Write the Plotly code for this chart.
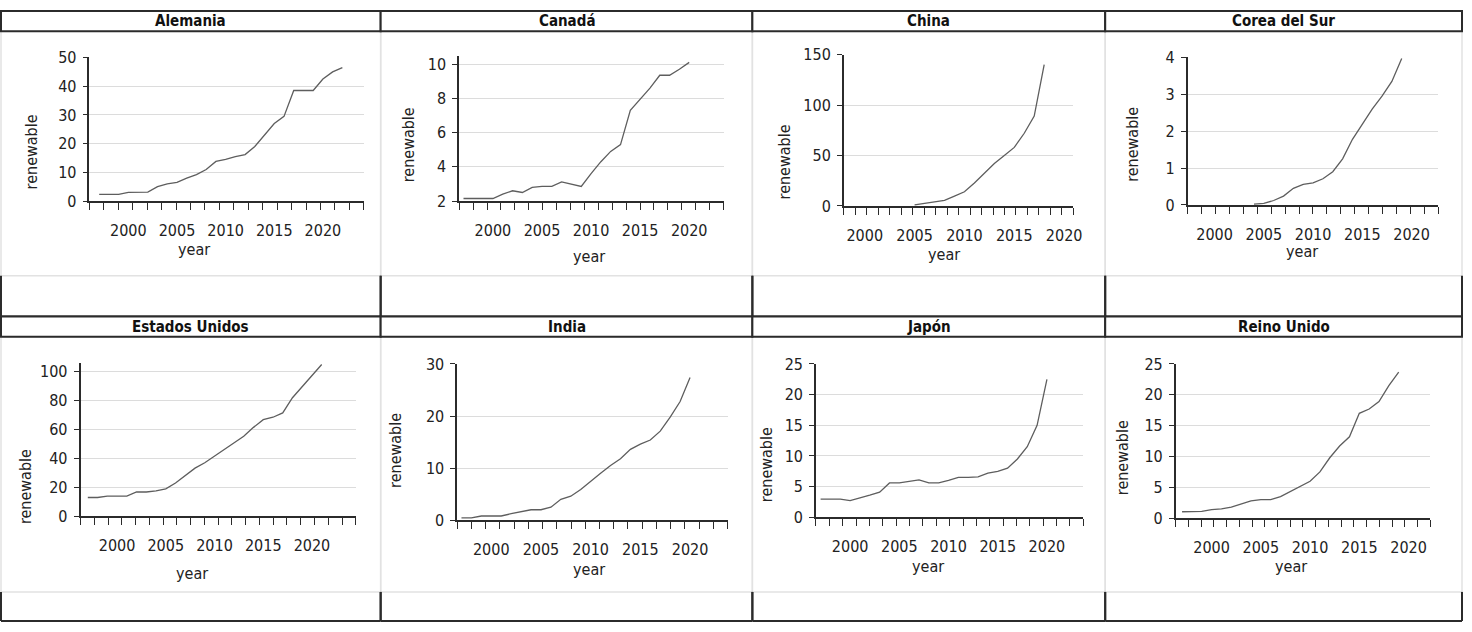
import plotly.graph_objects as go

W, H = 1472, 632

# ---------------- data ----------------
titles = ["Alemania", "Canadá", "China", "Corea del Sur",
          "Estados Unidos", "India", "Japón", "Reino Unido"]

years_ale = list(range(1997, 2023))
ren_ale = [2.3, 2.3, 2.3, 3.0, 3.0, 3.1, 5.0, 6.0, 6.5, 8.0, 9.2, 11.0, 13.8,
           14.5, 15.5, 16.2, 19.0, 23.0, 27.0, 29.5, 38.5, 38.5, 38.5, 42.5, 45.0, 46.5]

years_can = list(range(1997, 2021))
ren_can = [2.15, 2.15, 2.15, 2.15, 2.4, 2.6, 2.5, 2.8, 2.86, 2.86, 3.12, 2.98,
           2.85, 3.6, 4.3, 4.9, 5.3, 7.3, 7.95, 8.6, 9.35, 9.35, 9.7, 10.1]

years_chn = list(range(2005, 2019))
ren_chn = [1.0, 2.6, 3.6, 5.5, 9.7, 14.0, 22.7, 32.0, 42.0, 50.0, 58.0, 72.0, 89.0, 140.0]

years_kor = list(range(2004, 2020))
ren_kor = [0.02, 0.04, 0.12, 0.24, 0.45, 0.56, 0.6, 0.71, 0.9, 1.25, 1.78, 2.2,
           2.6, 2.95, 3.35, 3.97]

years_usa = list(range(1997, 2022))
ren_usa = [13.0, 13.0, 13.9, 13.9, 13.9, 16.8, 16.8, 17.5, 19.0, 23.0, 28.0, 33.3,
           37.0, 41.5, 46.5, 50.5, 55.3, 61.5, 66.8, 68.5, 71.5, 82.0, 89.5, 97.5, 105.0]

years_ind = list(range(1997, 2021))
ren_ind = [0.44, 0.44, 0.8, 0.8, 0.8, 1.24, 1.68, 2.0, 2.0, 2.5, 4.0, 4.6, 5.9,
           7.5, 9.0, 10.5, 11.8, 13.6, 14.6, 15.4, 17.1, 19.8, 22.8, 27.4]

years_jpn = list(range(1997, 2021))
ren_jpn = [2.95, 2.95, 2.95, 2.7, 3.1, 3.6, 4.1, 5.6, 5.6, 5.9, 6.1, 5.6, 5.6,
           6.0, 6.5, 6.5, 6.6, 7.2, 7.5, 8.0, 9.5, 11.5, 15.0, 22.5]

years_gbr = list(range(1997, 2020))
ren_gbr = [1.05, 1.05, 1.1, 1.4, 1.5, 1.8, 2.3, 2.8, 3.0, 3.0, 3.5, 4.3, 5.2,
           6.0, 7.5, 9.8, 11.7, 13.2, 17.0, 17.7, 18.9, 21.5, 23.7]

x_tickvals = [2000, 2005, 2010, 2015, 2020]
y_tickvals = [
    [0, 10, 20, 30, 40, 50],
    [2, 4, 6, 8, 10],
    [0, 50, 100, 150],
    [0, 1, 2, 3, 4],
    [0, 20, 40, 60, 80, 100],
    [0, 10, 20, 30],
    [0, 5, 10, 15, 20, 25],
    [0, 5, 10, 15, 20, 25],
]
x_title = "year"
y_title = "renewable"

year_lists = [years_ale, years_can, years_chn, years_kor,
              years_usa, years_ind, years_jpn, years_gbr]
value_lists = [ren_ale, ren_can, ren_chn, ren_kor,
               ren_usa, ren_ind, ren_jpn, ren_gbr]

# ---------------- layout geometry (pixels) ----------------
x_ranges = [(1996.0, 2024.2), (1996.56, 2023.5), (1997.9, 2020.93), (1997.27, 2022.7),
            (1996.25, 2024.5), (1996.57, 2023.77), (1996.53, 2023.7), (1996.36, 2022.2)]
y_ranges = [(0, 50), (2, 10.5), (0, 150), (0, 4),
            (0, 106), (0, 30), (0, 25), (0, 25)]
# (x_left, x_right, y_top, y_bottom) of each plotting area
boxes = [(90, 366, 50, 198), (462, 728, 48, 198), (849, 1080, 47, 203), (1195, 1447, 50, 202),
         (81, 358, 365, 523), (460, 732, 366, 527), (821, 1090, 366, 524), (1183, 1439, 366, 525)]
minor_n = [19, 19, 20, 18, 20, 19, 20, 20]
ylab_pos = [(32, 147), (411, 140), (789, 158), (1140, 140),
            (25, 492), (398, 455), (772, 470), (1129, 463)]
xlab_pos = [(195, 248), (593, 255), (950, 253), (1310, 250),
            (193, 582), (593, 578), (934, 575), (1299, 575)]

col_x = [1, 383, 757, 1112, 1471]
hdr_rows = [(2, 23), (317, 338)]
plot_rows = [(23, 275), (338, 601)]
blank_rows = [(275, 317), (601, 631)]

FONT = "DejaVu Sans Condensed, DejaVu Sans, sans-serif"
DARK = "#2b2b2b"


def px(x):
    return x / W


def py(y):
    return 1 - y / H


fig = go.Figure()
layout = dict(
    width=W, height=H,
    margin=dict(l=0, r=0, t=0, b=0),
    paper_bgcolor="white", plot_bgcolor="white",
    showlegend=False,
    font=dict(family=FONT, size=16, color="#222"),
)

annotations = []
shapes = []

for i in range(8):
    n = "" if i == 0 else str(i + 1)
    x0, x1, yt, yb = boxes[i]
    xr = x_ranges[i]
    fig.add_trace(go.Scatter(
        x=year_lists[i], y=value_lists[i], mode="lines",
        line=dict(color="#5e5e5e", width=1.3),
        xaxis="x" + n, yaxis="y" + n, hoverinfo="x+y",
    ))
    layout["xaxis" + n] = dict(
        domain=[px(x0), px(x1)], range=list(xr), anchor="y" + n,
        showline=True, linecolor=DARK, linewidth=1.6,
        ticks="", tickmode="array", tickvals=x_tickvals,
        ticktext=[str(v) for v in x_tickvals],
        tickfont=dict(family=FONT, size=16, color="#222"),
        ticklabelstandoff=14,
        showgrid=False, zeroline=False, fixedrange=True,
        minor=dict(ticks="outside", ticklen=7, tickcolor=DARK, tickwidth=1.4,
                   tickmode="linear", tick0=xr[0],
                   dtick=(xr[1] - xr[0]) / minor_n[i] * 0.99999, showgrid=False),
    )
    layout["yaxis" + n] = dict(
        domain=[py(yb), py(yt)], range=list(y_ranges[i]), anchor="x" + n,
        showline=True, linecolor=DARK, linewidth=1.6,
        ticks="outside", ticklen=5, tickcolor=DARK, tickwidth=1.4,
        tickmode="array", tickvals=y_tickvals[i],
        tickfont=dict(family=FONT, size=16, color="#222"),
        ticklabelstandoff=3,
        showgrid=True, gridcolor="#dcdcdc", gridwidth=1,
        zeroline=False, fixedrange=True,
    )
    annotations.append(dict(
        text=y_title, x=px(ylab_pos[i][0]), y=py(ylab_pos[i][1]),
        xref="paper", yref="paper", showarrow=False, textangle=-90,
        xanchor="center", yanchor="middle",
        font=dict(family=FONT, size=16, color="#222"),
    ))
    annotations.append(dict(
        text=x_title, x=px(xlab_pos[i][0]), y=py(xlab_pos[i][1]),
        xref="paper", yref="paper", showarrow=False,
        xanchor="center", yanchor="middle",
        font=dict(family=FONT, size=16, color="#222"),
    ))

# table-like frame
for r in range(2):
    for c in range(4):
        xa, xb = col_x[c], col_x[c + 1]
        pt, pb = plot_rows[r]
        shapes.append(dict(type="rect", xref="paper", yref="paper",
                           x0=px(xa), x1=px(xb), y0=py(pb), y1=py(pt),
                           line=dict(color="#e2e2e2", width=1.5), layer="below"))
for r in range(2):
    for c in range(4):
        xa, xb = col_x[c], col_x[c + 1]
        ht, hb = hdr_rows[r]
        bt, bb = blank_rows[r]
        shapes.append(dict(type="rect", xref="paper", yref="paper",
                           x0=px(xa), x1=px(xb), y0=py(hb), y1=py(ht),
                           line=dict(color=DARK, width=2), fillcolor="white"))
        for xv in (xa, xb):
            shapes.append(dict(type="line", xref="paper", yref="paper",
                               x0=px(xv), x1=px(xv), y0=py(bb), y1=py(bt),
                               line=dict(color=DARK, width=2)))
        shapes.append(dict(type="line", xref="paper", yref="paper",
                           x0=px(xa), x1=px(xb), y0=py(bb), y1=py(bb),
                           line=dict(color=DARK, width=2)))
        annotations.append(dict(
            text=titles[r * 4 + c], x=px((xa + xb) / 2), y=py((ht + hb) / 2),
            xref="paper", yref="paper", showarrow=False,
            xanchor="center", yanchor="middle",
            font=dict(family=FONT, size=15, color="#111", weight="bold"),
        ))

layout["annotations"] = annotations
layout["shapes"] = shapes
fig.update_layout(**layout)
fig.write_html(
    "out.html",
    config={"displayModeBar": False},
    post_script="document.body.style.margin='0px';document.body.style.padding='0px';"
                "document.documentElement.style.overflow='hidden';",
)
